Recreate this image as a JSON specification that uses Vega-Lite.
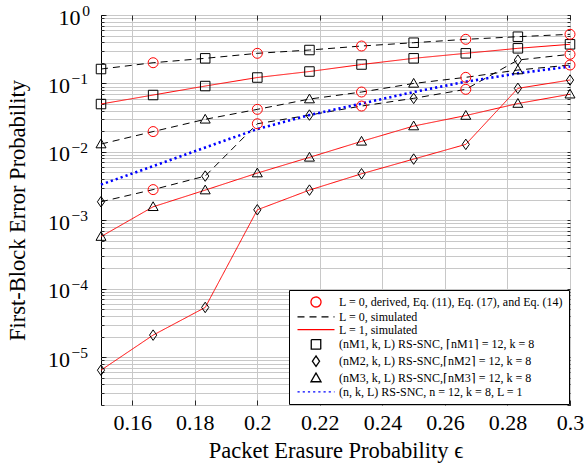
{
  "$schema": "https://vega.github.io/schema/vega-lite/v6.json",
  "autosize": "none",
  "width": 469,
  "height": 390,
  "padding": {"left": 101, "top": 15, "right": 14, "bottom": 60},
  "background": "white",
  "datasets": {
    "lines": [
      {"e": 0.15, "p": 0.1624, "c": "D0M1", "g": "D0"},
      {"e": 0.16667, "p": 0.2007, "c": "D0M1", "g": "D0"},
      {"e": 0.18333, "p": 0.2327, "c": "D0M1", "g": "D0"},
      {"e": 0.2, "p": 0.2754, "c": "D0M1", "g": "D0"},
      {"e": 0.21667, "p": 0.3077, "c": "D0M1", "g": "D0"},
      {"e": 0.23333, "p": 0.3522, "c": "D0M1", "g": "D0"},
      {"e": 0.25, "p": 0.3936, "c": "D0M1", "g": "D0"},
      {"e": 0.26667, "p": 0.4413, "c": "D0M1", "g": "D0"},
      {"e": 0.28333, "p": 0.4817, "c": "D0M1", "g": "D0"},
      {"e": 0.3, "p": 0.5222, "c": "D0M1", "g": "D0"},
      {"e": 0.15, "p": 0.001865, "c": "D0M2", "g": "D0"},
      {"e": 0.16667, "p": 0.00281, "c": "D0M2", "g": "D0"},
      {"e": 0.18333, "p": 0.004427, "c": "D0M2", "g": "D0"},
      {"e": 0.2, "p": 0.02575, "c": "D0M2", "g": "D0"},
      {"e": 0.21667, "p": 0.03451, "c": "D0M2", "g": "D0"},
      {"e": 0.23333, "p": 0.04673, "c": "D0M2", "g": "D0"},
      {"e": 0.25, "p": 0.06056, "c": "D0M2", "g": "D0"},
      {"e": 0.26667, "p": 0.082, "c": "D0M2", "g": "D0"},
      {"e": 0.28333, "p": 0.2198, "c": "D0M2", "g": "D0"},
      {"e": 0.3, "p": 0.2663, "c": "D0M2", "g": "D0"},
      {"e": 0.15, "p": 0.013, "c": "D0M3", "g": "D0"},
      {"e": 0.16667, "p": 0.0198, "c": "D0M3", "g": "D0"},
      {"e": 0.18333, "p": 0.0299, "c": "D0M3", "g": "D0"},
      {"e": 0.2, "p": 0.0418, "c": "D0M3", "g": "D0"},
      {"e": 0.21667, "p": 0.0591, "c": "D0M3", "g": "D0"},
      {"e": 0.23333, "p": 0.0749, "c": "D0M3", "g": "D0"},
      {"e": 0.25, "p": 0.1, "c": "D0M3", "g": "D0"},
      {"e": 0.26667, "p": 0.1228, "c": "D0M3", "g": "D0"},
      {"e": 0.28333, "p": 0.157, "c": "D0M3", "g": "D0"},
      {"e": 0.3, "p": 0.1858, "c": "D0M3", "g": "D0"},
      {"e": 0.15, "p": 0.05, "c": "S1M1", "g": "S1"},
      {"e": 0.16667, "p": 0.0677, "c": "S1M1", "g": "S1"},
      {"e": 0.18333, "p": 0.0916, "c": "S1M1", "g": "S1"},
      {"e": 0.2, "p": 0.122, "c": "S1M1", "g": "S1"},
      {"e": 0.21667, "p": 0.1493, "c": "S1M1", "g": "S1"},
      {"e": 0.23333, "p": 0.189, "c": "S1M1", "g": "S1"},
      {"e": 0.25, "p": 0.2328, "c": "S1M1", "g": "S1"},
      {"e": 0.26667, "p": 0.2754, "c": "S1M1", "g": "S1"},
      {"e": 0.28333, "p": 0.3259, "c": "S1M1", "g": "S1"},
      {"e": 0.3, "p": 0.3729, "c": "S1M1", "g": "S1"},
      {"e": 0.15, "p": 0.00000645, "c": "S1M2", "g": "S1"},
      {"e": 0.16667, "p": 0.000021, "c": "S1M2", "g": "S1"},
      {"e": 0.18333, "p": 0.0000533, "c": "S1M2", "g": "S1"},
      {"e": 0.2, "p": 0.001424, "c": "S1M2", "g": "S1"},
      {"e": 0.21667, "p": 0.002763, "c": "S1M2", "g": "S1"},
      {"e": 0.23333, "p": 0.004783, "c": "S1M2", "g": "S1"},
      {"e": 0.25, "p": 0.007846, "c": "S1M2", "g": "S1"},
      {"e": 0.26667, "p": 0.01287, "c": "S1M2", "g": "S1"},
      {"e": 0.28333, "p": 0.0848, "c": "S1M2", "g": "S1"},
      {"e": 0.3, "p": 0.1121, "c": "S1M2", "g": "S1"},
      {"e": 0.15, "p": 0.000578, "c": "S1M3", "g": "S1"},
      {"e": 0.16667, "p": 0.001576, "c": "S1M3", "g": "S1"},
      {"e": 0.18333, "p": 0.002763, "c": "S1M3", "g": "S1"},
      {"e": 0.2, "p": 0.004898, "c": "S1M3", "g": "S1"},
      {"e": 0.21667, "p": 0.008311, "c": "S1M3", "g": "S1"},
      {"e": 0.23333, "p": 0.01424, "c": "S1M3", "g": "S1"},
      {"e": 0.25, "p": 0.02383, "c": "S1M3", "g": "S1"},
      {"e": 0.26667, "p": 0.03394, "c": "S1M3", "g": "S1"},
      {"e": 0.28333, "p": 0.05083, "c": "S1M3", "g": "S1"},
      {"e": 0.3, "p": 0.06953, "c": "S1M3", "g": "S1"},
      {"e": 0.15, "p": 0.003325, "c": "B", "g": "B"},
      {"e": 0.16667, "p": 0.0062, "c": "B", "g": "B"},
      {"e": 0.18333, "p": 0.01156, "c": "B", "g": "B"},
      {"e": 0.2, "p": 0.02154, "c": "B", "g": "B"},
      {"e": 0.21667, "p": 0.03451, "c": "B", "g": "B"},
      {"e": 0.23333, "p": 0.05083, "c": "B", "g": "B"},
      {"e": 0.25, "p": 0.07485, "c": "B", "g": "B"},
      {"e": 0.26667, "p": 0.1059, "c": "B", "g": "B"},
      {"e": 0.28333, "p": 0.1405, "c": "B", "g": "B"},
      {"e": 0.3, "p": 0.1767, "c": "B", "g": "B"}
    ],
    "marks": [
      {"e": 0.15, "p": 0.1624, "g": "M1"},
      {"e": 0.18333, "p": 0.2327, "g": "M1"},
      {"e": 0.21667, "p": 0.3077, "g": "M1"},
      {"e": 0.25, "p": 0.3936, "g": "M1"},
      {"e": 0.28333, "p": 0.4817, "g": "M1"},
      {"e": 0.15, "p": 0.05, "g": "M1"},
      {"e": 0.16667, "p": 0.0677, "g": "M1"},
      {"e": 0.18333, "p": 0.0916, "g": "M1"},
      {"e": 0.2, "p": 0.122, "g": "M1"},
      {"e": 0.21667, "p": 0.1493, "g": "M1"},
      {"e": 0.23333, "p": 0.189, "g": "M1"},
      {"e": 0.25, "p": 0.2328, "g": "M1"},
      {"e": 0.26667, "p": 0.2754, "g": "M1"},
      {"e": 0.28333, "p": 0.3259, "g": "M1"},
      {"e": 0.3, "p": 0.3729, "g": "M1"},
      {"e": 0.15, "p": 0.001865, "g": "M2"},
      {"e": 0.18333, "p": 0.004427, "g": "M2"},
      {"e": 0.21667, "p": 0.03451, "g": "M2"},
      {"e": 0.25, "p": 0.06056, "g": "M2"},
      {"e": 0.28333, "p": 0.2198, "g": "M2"},
      {"e": 0.15, "p": 0.00000645, "g": "M2"},
      {"e": 0.16667, "p": 0.000021, "g": "M2"},
      {"e": 0.18333, "p": 0.0000533, "g": "M2"},
      {"e": 0.2, "p": 0.001424, "g": "M2"},
      {"e": 0.21667, "p": 0.002763, "g": "M2"},
      {"e": 0.23333, "p": 0.004783, "g": "M2"},
      {"e": 0.25, "p": 0.007846, "g": "M2"},
      {"e": 0.26667, "p": 0.01287, "g": "M2"},
      {"e": 0.28333, "p": 0.0848, "g": "M2"},
      {"e": 0.3, "p": 0.1121, "g": "M2"},
      {"e": 0.15, "p": 0.013, "g": "M3"},
      {"e": 0.18333, "p": 0.0299, "g": "M3"},
      {"e": 0.21667, "p": 0.0591, "g": "M3"},
      {"e": 0.25, "p": 0.1, "g": "M3"},
      {"e": 0.28333, "p": 0.157, "g": "M3"},
      {"e": 0.15, "p": 0.000578, "g": "M3"},
      {"e": 0.16667, "p": 0.001576, "g": "M3"},
      {"e": 0.18333, "p": 0.002763, "g": "M3"},
      {"e": 0.2, "p": 0.004898, "g": "M3"},
      {"e": 0.21667, "p": 0.008311, "g": "M3"},
      {"e": 0.23333, "p": 0.01424, "g": "M3"},
      {"e": 0.25, "p": 0.02383, "g": "M3"},
      {"e": 0.26667, "p": 0.03394, "g": "M3"},
      {"e": 0.28333, "p": 0.05083, "g": "M3"},
      {"e": 0.3, "p": 0.06953, "g": "M3"},
      {"e": 0.16667, "p": 0.2007, "g": "C"},
      {"e": 0.2, "p": 0.2754, "g": "C"},
      {"e": 0.23333, "p": 0.3522, "g": "C"},
      {"e": 0.26667, "p": 0.4413, "g": "C"},
      {"e": 0.3, "p": 0.5222, "g": "C"},
      {"e": 0.16667, "p": 0.00281, "g": "C"},
      {"e": 0.2, "p": 0.02575, "g": "C"},
      {"e": 0.23333, "p": 0.04673, "g": "C"},
      {"e": 0.26667, "p": 0.082, "g": "C"},
      {"e": 0.3, "p": 0.2663, "g": "C"},
      {"e": 0.16667, "p": 0.0198, "g": "C"},
      {"e": 0.2, "p": 0.0418, "g": "C"},
      {"e": 0.23333, "p": 0.0749, "g": "C"},
      {"e": 0.26667, "p": 0.1228, "g": "C"},
      {"e": 0.3, "p": 0.1858, "g": "C"}
    ]
  },
  "resolve": {"axis": {"x": "independent", "y": "independent"}},
  "layer": [
    {
      "data": {"name": "lines"},
      "transform": [{"filter": "datum.g != 'B'"}],
      "mark": {"type": "line", "strokeCap": "butt", "strokeWidth": 1},
      "encoding": {
        "x": {"field": "e", "type": "quantitative",
          "scale": {"domain": [0.15, 0.3], "nice": false, "zero": false},
          "axis": {"orient": "bottom", "values": [0.16, 0.18, 0.2, 0.22, 0.24, 0.26, 0.28, 0.3], "format": "~g",
            "grid": true, "tickSize": -5, "labelFontSize": 22, "labelPadding": 12,
            "title": "Packet Erasure Probability ϵ", "titleFontSize": 22.5, "titlePadding": 6}},
        "y": {"field": "p", "type": "quantitative",
          "scale": {"type": "log", "domain": [0.000002, 1], "nice": false},
          "axis": {"orient": "left", "values": [0.000002,0.000003,0.000004,0.000005,0.000006,0.000007,0.000008,0.000009,0.00001,0.00002,0.00003,0.00004,0.00005,0.00006,0.00007,0.00008,0.00009,0.0001,0.0002,0.0003,0.0004,0.0005,0.0006,0.0007,0.0008,0.0009,0.001,0.002,0.003,0.004,0.005,0.006,0.007,0.008,0.009,0.01,0.02,0.03,0.04,0.05,0.06,0.07,0.08,0.09,0.1,0.2,0.3,0.4,0.5,0.6,0.7,0.8,0.9,1],
            "grid": true, "labels": false, "tickSize": -3, "title": null}},
        "detail": {"field": "c"},
        "color": {"field": "g", "type": "nominal",
          "scale": {"domain": ["C", "D0", "S1", "M1", "M2", "M3", "B"], "range": ["#ff0000", "#000000", "#ff0000", "#000000", "#000000", "#000000", "#0000ff"]},
          "legend": {"title": null, "labelFont": "Liberation Serif", "labelFontSize": 12, "labelExpr": "{'C': 'L = 0, derived, Eq. (11), Eq. (17), and Eq. (14)', 'D0': 'L = 0, simulated', 'S1': 'L = 1, simulated', 'M1': '(nM1, k, L) RS-SNC, ⌈nM1⌉ = 12, k = 8', 'M2': '(nM2, k, L) RS-SNC,⌈nM2⌉ = 12, k = 8', 'M3': '(nM3, k, L) RS-SNC,⌈nM3⌉ = 12, k = 8', 'B': '(n, k, L) RS-SNC, n = 12, k = 8, L = 1'}[datum.label]"}},
        "strokeDash": {"field": "g", "type": "nominal",
          "scale": {"domain": ["C", "D0", "S1", "M1", "M2", "M3", "B"], "range": [[1, 0], [7, 5], [1, 0], [1, 0], [1, 0], [1, 0], [2.2, 3]]},
          "legend": {"title": null, "labelFont": "Liberation Serif", "labelFontSize": 12, "labelExpr": "{'C': 'L = 0, derived, Eq. (11), Eq. (17), and Eq. (14)', 'D0': 'L = 0, simulated', 'S1': 'L = 1, simulated', 'M1': '(nM1, k, L) RS-SNC, ⌈nM1⌉ = 12, k = 8', 'M2': '(nM2, k, L) RS-SNC,⌈nM2⌉ = 12, k = 8', 'M3': '(nM3, k, L) RS-SNC,⌈nM3⌉ = 12, k = 8', 'B': '(n, k, L) RS-SNC, n = 12, k = 8, L = 1'}[datum.label]"}}
      }
    },
    {
      "data": {"name": "lines"},
      "transform": [{"filter": "datum.g == 'B'"}],
      "mark": {"type": "line", "strokeCap": "butt", "strokeWidth": 2.6},
      "encoding": {
        "x": {"field": "e", "type": "quantitative", "axis": null},
        "y": {"field": "p", "type": "quantitative", "axis": null},
        "detail": {"field": "c"},
        "color": {"field": "g", "type": "nominal",
          "scale": {"domain": ["C", "D0", "S1", "M1", "M2", "M3", "B"], "range": ["#ff0000", "#000000", "#ff0000", "#000000", "#000000", "#000000", "#0000ff"]},
          "legend": {"title": null, "labelFont": "Liberation Serif", "labelFontSize": 12, "labelExpr": "{'C': 'L = 0, derived, Eq. (11), Eq. (17), and Eq. (14)', 'D0': 'L = 0, simulated', 'S1': 'L = 1, simulated', 'M1': '(nM1, k, L) RS-SNC, ⌈nM1⌉ = 12, k = 8', 'M2': '(nM2, k, L) RS-SNC,⌈nM2⌉ = 12, k = 8', 'M3': '(nM3, k, L) RS-SNC,⌈nM3⌉ = 12, k = 8', 'B': '(n, k, L) RS-SNC, n = 12, k = 8, L = 1'}[datum.label]"}},
        "strokeDash": {"field": "g", "type": "nominal",
          "scale": {"domain": ["C", "D0", "S1", "M1", "M2", "M3", "B"], "range": [[1, 0], [7, 5], [1, 0], [1, 0], [1, 0], [1, 0], [2.2, 3]]},
          "legend": {"title": null, "labelFont": "Liberation Serif", "labelFontSize": 12, "labelExpr": "{'C': 'L = 0, derived, Eq. (11), Eq. (17), and Eq. (14)', 'D0': 'L = 0, simulated', 'S1': 'L = 1, simulated', 'M1': '(nM1, k, L) RS-SNC, ⌈nM1⌉ = 12, k = 8', 'M2': '(nM2, k, L) RS-SNC,⌈nM2⌉ = 12, k = 8', 'M3': '(nM3, k, L) RS-SNC,⌈nM3⌉ = 12, k = 8', 'B': '(n, k, L) RS-SNC, n = 12, k = 8, L = 1'}[datum.label]"}}
      }
    },
    {
      "data": {"name": "marks"},
      "mark": {"type": "point", "filled": false, "size": 100, "strokeWidth": 1, "opacity": 1},
      "encoding": {
        "x": {"field": "e", "type": "quantitative", "axis": null},
        "y": {"field": "p", "type": "quantitative",
          "axis": {"orient": "left", "values": [0.00001, 0.0001, 0.001, 0.01, 0.1, 1], "labelExpr": "'10'",
            "ticks": false, "labelFontSize": 22, "labelAlign": "right",
            "labelPadding": {"condition": {"test": "datum.value >= 0.5", "value": 21}, "value": 31.5},
            "labelOffset": 2,
            "title": "First-Block Error Probability", "titleFontSize": 22.5, "titlePadding": 18}},
        "color": {"field": "g", "type": "nominal",
          "scale": {"domain": ["C", "D0", "S1", "M1", "M2", "M3", "B"], "range": ["#ff0000", "#000000", "#ff0000", "#000000", "#000000", "#000000", "#0000ff"]},
          "legend": {"title": null, "labelFont": "Liberation Serif", "labelFontSize": 12, "labelExpr": "{'C': 'L = 0, derived, Eq. (11), Eq. (17), and Eq. (14)', 'D0': 'L = 0, simulated', 'S1': 'L = 1, simulated', 'M1': '(nM1, k, L) RS-SNC, ⌈nM1⌉ = 12, k = 8', 'M2': '(nM2, k, L) RS-SNC,⌈nM2⌉ = 12, k = 8', 'M3': '(nM3, k, L) RS-SNC,⌈nM3⌉ = 12, k = 8', 'B': '(n, k, L) RS-SNC, n = 12, k = 8, L = 1'}[datum.label]"}},
        "shape": {"field": "g", "type": "nominal",
          "scale": {"domain": ["C", "D0", "S1", "M1", "M2", "M3", "B"],
            "range": ["M-1,0A1,1,0,1,1,1,0A1,1,0,1,1,-1,0Z", "M-3.7,0H3.7", "M-3.7,0H3.7", "M-0.95,-0.95H0.95V0.95H-0.95Z", "M-0.72,0L0,-1.05L0.72,0L0,1.05Z", "M-1,0.75L0,-1L1,0.75Z", "M-3.7,0H3.7"]},
          "legend": {"title": null, "labelFont": "Liberation Serif", "labelFontSize": 12, "labelExpr": "{'C': 'L = 0, derived, Eq. (11), Eq. (17), and Eq. (14)', 'D0': 'L = 0, simulated', 'S1': 'L = 1, simulated', 'M1': '(nM1, k, L) RS-SNC, ⌈nM1⌉ = 12, k = 8', 'M2': '(nM2, k, L) RS-SNC,⌈nM2⌉ = 12, k = 8', 'M3': '(nM3, k, L) RS-SNC,⌈nM3⌉ = 12, k = 8', 'B': '(n, k, L) RS-SNC, n = 12, k = 8, L = 1'}[datum.label]"}}
      }
    },
    {
      "data": {"name": "lines"},
      "mark": {"type": "line", "opacity": 0},
      "encoding": {
        "detail": {"field": "c"},
        "x": {"field": "e", "type": "quantitative",
          "axis": {"orient": "top", "values": [0.16, 0.18, 0.2, 0.22, 0.24, 0.26, 0.28, 0.3], "labels": false, "grid": false, "tickSize": -5, "title": null}},
        "y": {"field": "p", "type": "quantitative",
          "axis": {"orient": "left", "values": [0.00001, 0.0001, 0.001, 0.01, 0.1, 1],
            "labelExpr": "datum.value >= 0.5 ? '0' : '−' + round(-log(datum.value) / LN10)",
            "ticks": false, "labelFontSize": 15.5, "labelAlign": "left",
            "labelPadding": {"condition": {"test": "datum.value >= 0.5", "value": 19.3}, "value": 30},
            "labelOffset": -4.5, "grid": false, "title": null}}
      }
    },
    {
      "data": {"name": "lines"},
      "mark": {"type": "line", "opacity": 0},
      "encoding": {
        "detail": {"field": "c"},
        "x": {"field": "e", "type": "quantitative", "axis": null},
        "y": {"field": "p", "type": "quantitative",
          "axis": {"orient": "right", "values": [0.000002,0.000003,0.000004,0.000005,0.000006,0.000007,0.000008,0.000009,0.00001,0.00002,0.00003,0.00004,0.00005,0.00006,0.00007,0.00008,0.00009,0.0001,0.0002,0.0003,0.0004,0.0005,0.0006,0.0007,0.0008,0.0009,0.001,0.002,0.003,0.004,0.005,0.006,0.007,0.008,0.009,0.01,0.02,0.03,0.04,0.05,0.06,0.07,0.08,0.09,0.1,0.2,0.3,0.4,0.5,0.6,0.7,0.8,0.9,1],
            "labels": false, "grid": false, "tickSize": -3, "title": null}}
      }
    },
    {
      "data": {"name": "lines"},
      "mark": {"type": "line", "opacity": 0},
      "encoding": {
        "detail": {"field": "c"},
        "x": {"field": "e", "type": "quantitative", "axis": null},
        "y": {"field": "p", "type": "quantitative",
          "axis": {"orient": "left", "values": [0.00001, 0.0001, 0.001, 0.01, 0.1, 1],
            "labels": false, "grid": false, "tickSize": -5, "title": null}}
      }
    }
  ],
  "config": {
    "font": "Liberation Serif",
    "view": {"stroke": "black", "strokeWidth": 1},
    "axis": {"domain": false, "labelColor": "black", "titleColor": "black", "tickColor": "black", "tickWidth": 0.8,
      "gridColor": "#c8c8c8", "gridWidth": 1, "labelFont": "Liberation Serif", "titleFont": "Liberation Serif",
      "titleFontWeight": "normal", "labelFlush": false, "labelOverlap": false},
    "legend": {"orient": "bottom-right", "offset": 1, "labelFont": "Liberation Serif", "labelFontSize": 12,
      "labelColor": "black", "symbolSize": 100, "symbolOffset": 15, "labelOffset": 17, "padding": 6,
      "rowPadding": 0.8, "strokeColor": "black", "fillColor": "white", "labelLimit": 500, "symbolFillColor": "transparent",
      "symbolStrokeWidth": 1.3}
  }
}
